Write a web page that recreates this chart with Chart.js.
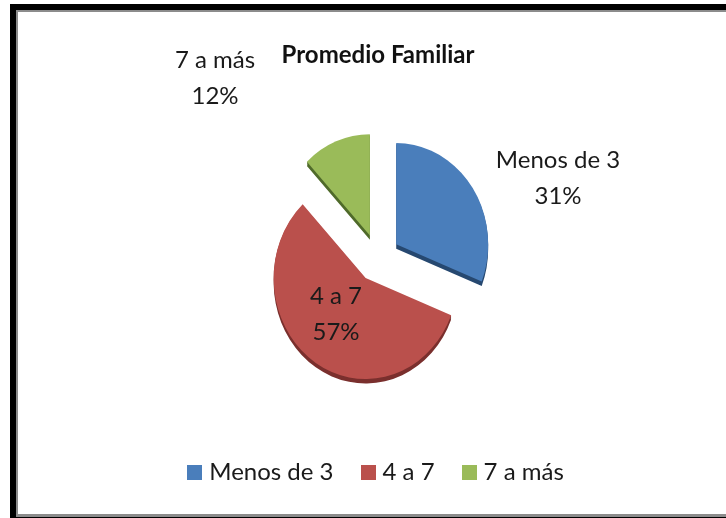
<!DOCTYPE html>
<html><head><meta charset="utf-8">
<script src="https://cdn.jsdelivr.net/npm/chart.js@4"></script>
<style>
html,body{margin:0;padding:0;background:#fff;width:726px;height:518px;overflow:hidden}
#wrap{position:relative;width:726px;height:518px}
canvas{position:absolute;left:0;top:0}
#frame{position:absolute;left:10px;top:4px;width:716px;height:514px;box-sizing:border-box;border-left:6px solid #000;border-top:6px solid #000;border-bottom:1px solid #000;pointer-events:none}
#inner{position:absolute;left:0;top:0;right:0;bottom:0;border-left:2px solid #8c8c8c;border-top:2px solid #8c8c8c;border-bottom:3px solid #8c8c8c}
</style></head><body>
<div id="wrap"><canvas id="c" width="726" height="518"></canvas><div id="frame"><div id="inner"></div></div></div>
<script>
const categories = ['Menos de 3','4 a 7','7 a más'];
const values = [31,57,12];
const colors = ['#4A7EBB','#BA504C','#9ABB59'];
const sideColors = ['#264870','#7A2F2D','#4F6A2A'];
const titleText = 'Promedio Familiar';
const FONT = 'Lato, sans-serif';
const YS = 1.10, DEPTH = 4, EXPLODE = 22;
const labelAnchors = [[558,178],[336,314],[215,78]];

function swatch(color){
  const s=document.createElement('canvas');s.width=15;s.height=15;
  const x=s.getContext('2d');x.fillStyle=color;x.fillRect(0,0,15,15);return s;
}
const swatches = colors.map(swatch);

const pie3d = {
  id:'pie3d',
  beforeDatasetsDraw(chart){
    const ctx = chart.ctx, arcs = chart.getDatasetMeta(0).data;
    const py = arcs[0].y;
    ctx.save();
    ctx.translate(0,py);ctx.scale(1,YS);ctx.translate(0,-py);
    arcs.forEach((a,i)=>{
      const mid=(a.startAngle+a.endAngle)/2, x=a.x+Math.cos(mid)*EXPLODE, y=a.y+Math.sin(mid)*EXPLODE;
      ctx.fillStyle=sideColors[i];
      ctx.beginPath();
      for(let d=DEPTH;d>0;d--){
        ctx.moveTo(x,y+d);ctx.arc(x,y+d,a.outerRadius,a.startAngle,a.endAngle);ctx.closePath();
      }
      ctx.fill();
      ctx.fillStyle=colors[i];
      ctx.beginPath();ctx.moveTo(x,y);ctx.arc(x,y,a.outerRadius,a.startAngle,a.endAngle);ctx.closePath();ctx.fill();
    });
    ctx.restore();
    return false;
  }
};
const labels = {
  id:'sliceLabels',
  afterDraw(chart){
    const ctx=chart.ctx;
    ctx.save();
    ctx.font='24px '+FONT;ctx.fillStyle='#1a1a1a';ctx.textAlign='center';ctx.textBaseline='middle';
    categories.forEach((c,i)=>{
      const [x,y]=labelAnchors[i];
      ctx.fillText(c,x,y-18);
      ctx.fillText(values[i]+'%',x,y+18);
    });
    ctx.restore();
  }
};
new Chart(document.getElementById('c'),{
  type:'pie',
  data:{labels:categories,datasets:[{data:values,backgroundColor:colors,borderWidth:0}]},
  options:{
    responsive:false,animation:false,radius:92,
    layout:{padding:{left:30,right:0,top:33,bottom:24}},
    plugins:{
      title:{display:true,text:titleText,color:'#111',font:{family:FONT,size:24,weight:'bold'},padding:{top:8,bottom:18}},
      legend:{position:'bottom',labels:{color:'#1a1a1a',font:{family:FONT,size:24},usePointStyle:true,pointStyleWidth:5,boxHeight:15,padding:32,
        generateLabels(chart){
          const items=Chart.overrides.pie.plugins.legend.labels.generateLabels(chart);
          items.forEach((it,i)=>{it.pointStyle=swatches[i];});
          return items;
        }}},
      tooltip:{enabled:false}
    }
  },
  plugins:[pie3d,labels]
});
</script></body></html>
